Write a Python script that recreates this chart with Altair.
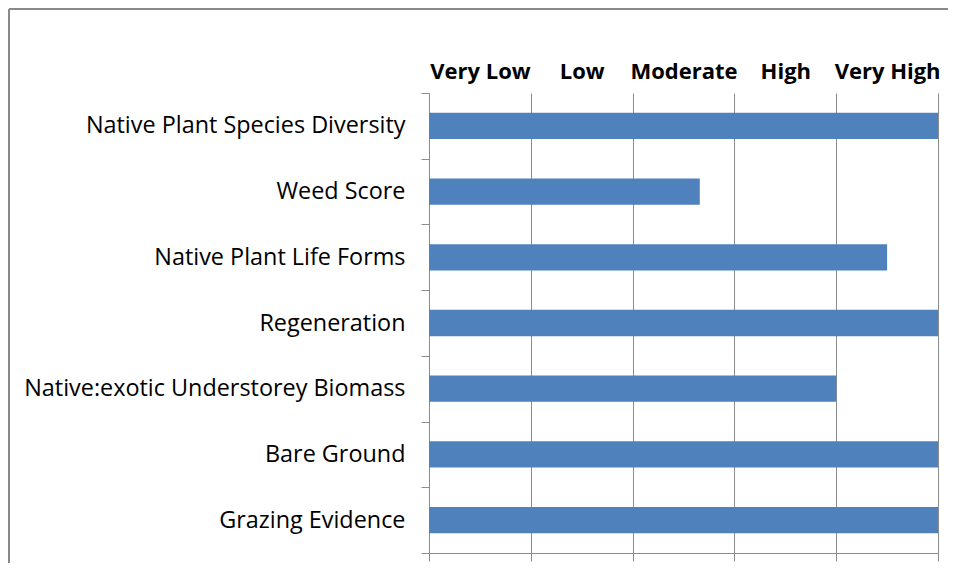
import altair as alt
import pandas as pd

categories = [
    "Native Plant Species Diversity",
    "Weed Score",
    "Native Plant Life Forms",
    "Regeneration",
    "Native:exotic Understorey Biomass",
    "Bare Ground",
    "Grazing Evidence",
]
scores = [5.0, 2.66, 4.5, 5.0, 4.0, 5.0, 5.0]
levels = ["Very Low", "Low", "Moderate", "High", "Very High"]

df = pd.DataFrame({"category": categories, "score": scores})

FONT = "Open Sans"
GRID = "#8c8c8c"

label_js = "[" + ",".join(f"'{l}'" for l in levels) + "]"

x_scale = alt.Scale(domain=[0, 5], nice=False, zero=True)
y_scale = alt.Scale(paddingInner=0, paddingOuter=0)
y_axis = alt.Axis(
    title=None,
    tickBand="extent",
    labelFont=FONT,
    labelFontSize=23.4,
    labelColor="#000000",
    labelLimit=0,
    labelPadding=16,
    tickSize=8,
    tickColor=GRID,
    domainColor=GRID,
    domainWidth=1,
    grid=False,
)
y_enc = alt.Y("category:N", sort=categories, scale=y_scale, axis=y_axis)

bars = alt.Chart(df).mark_bar(color="#4f81bd", height={"band": 0.4}).encode(
    x=alt.X(
        "score:Q",
        scale=x_scale,
        axis=alt.Axis(
            orient="bottom",
            title=None,
            values=[0, 1, 2, 3, 4, 5],
            labels=False,
            grid=True,
            gridColor=GRID,
            gridOpacity=1,
            tickSize=8,
            tickColor=GRID,
            domainColor=GRID,
            domainWidth=1,
        ),
    ),
    y=y_enc,
)

top = alt.Chart(df).mark_bar(opacity=0, height={"band": 0.4}).encode(
    x=alt.X(
        "score:Q",
        scale=x_scale,
        axis=alt.Axis(
            orient="top",
            title=None,
            values=[0.5, 1.5, 2.5, 3.5, 4.5],
            labelExpr=f"{label_js}[floor(datum.value)]",
            labelFont=FONT,
            labelFontSize=22,
            labelFontWeight="bold",
            labelColor="#000000",
            labelPadding=10,
            ticks=False,
            domain=False,
            grid=False,
        ),
    ),
    y=y_enc,
)

frame_data = alt.Data(values=[{"f": 1}])
frame_top = alt.Chart(frame_data).mark_rule(color="#898989", strokeWidth=2).encode(
    x=alt.value(-420), x2=alt.value(519), y=alt.value(-84)
)
frame_left = alt.Chart(frame_data).mark_rule(color="#898989", strokeWidth=2).encode(
    x=alt.value(-420), y=alt.value(-84), y2=alt.value(470)
)

chart = (
    alt.layer(bars, top, frame_top, frame_left)
    .resolve_axis(x="independent")
    .properties(
        width=509,
        height=460,
        autosize=alt.AutoSizeParams(type="none"),
        padding={"left": 421, "top": 85, "right": 11, "bottom": 17},
    )
    .configure_view(stroke=None)
)

chart.save("out.html", embed_options={"renderer": "svg", "actions": False})
